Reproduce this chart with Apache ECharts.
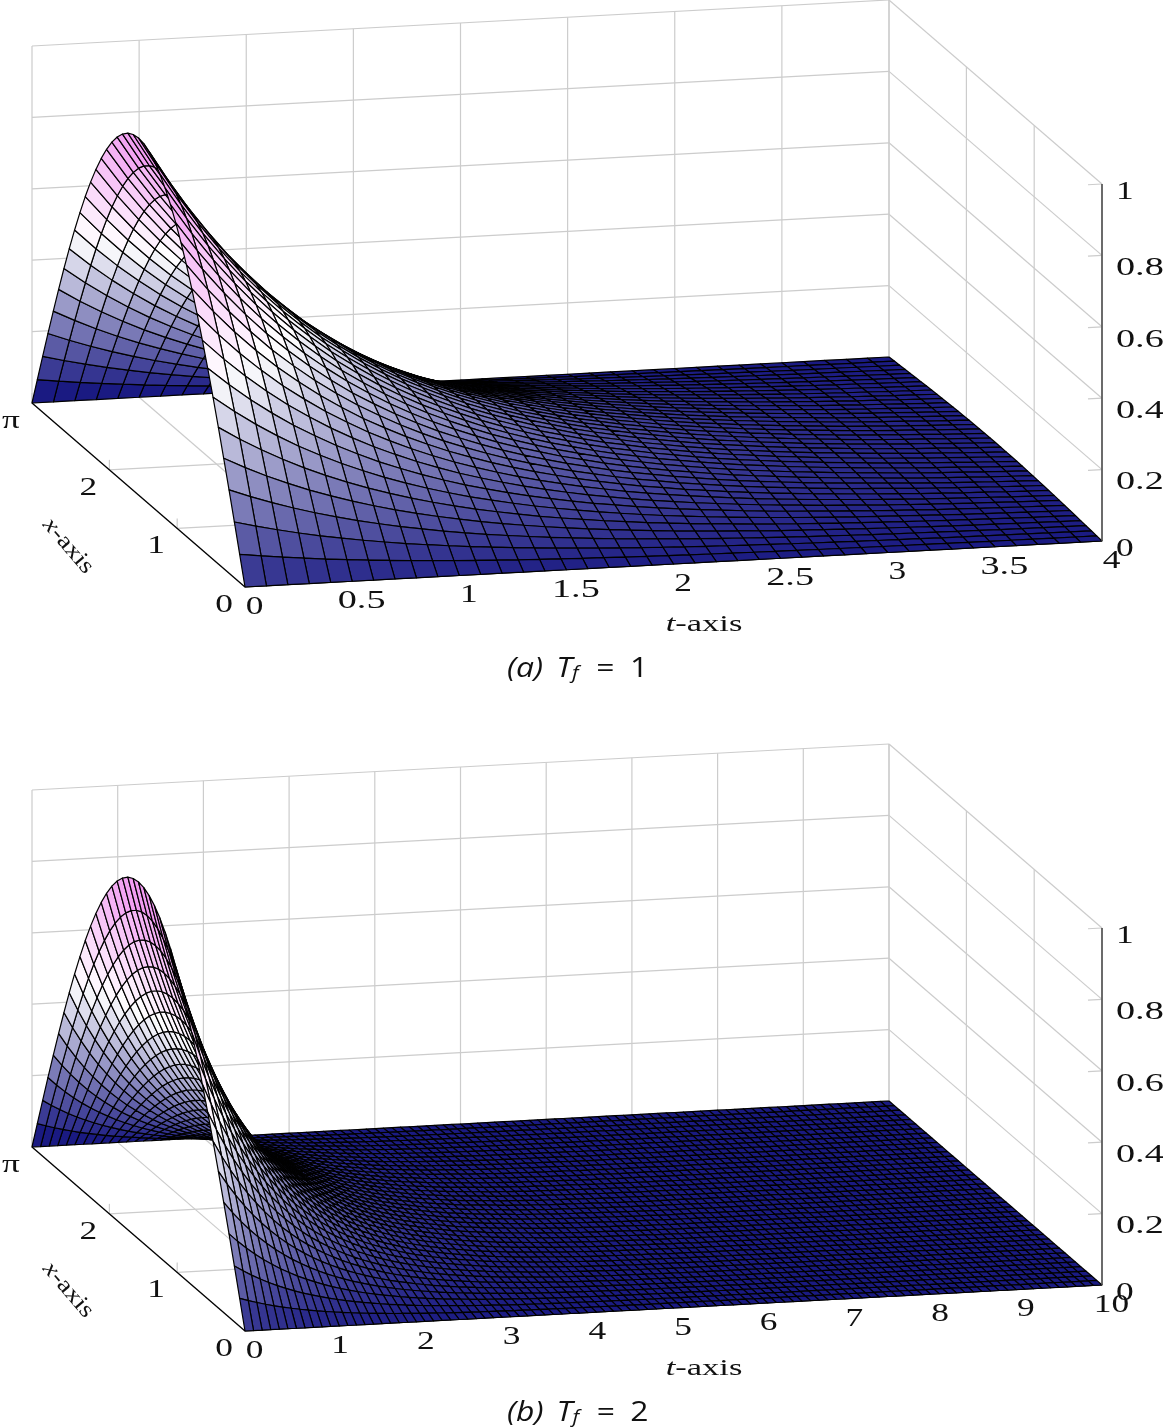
<!DOCTYPE html>
<html>
<head>
<meta charset="utf-8">
<style>html,body{margin:0;padding:0;background:#fff}#chart{width:1163px;height:1427px}</style>
<script src="https://cdn.jsdelivr.net/npm/echarts@6/dist/echarts.min.js"></script>
</head>
<body>
<div id="chart"></div>
<script>
// mesh positions along x
const xPositions = [0,.0785,.1571,.2356,.3142,.3927,.4712,.5498,.6283,.7069,.7854,.8639,.9425,1.021,1.0996,1.1781,1.2566,1.3352,1.4137,1.4923,1.5708,1.6493,1.7279,1.8064,1.885,1.9635,2.042,2.1206,2.1991,2.2777,2.3562,2.4347,2.5133,2.5918,2.6704,2.7489,2.8274,2.906,2.9845,3.0631,3.1416]
// height of the arc across x, relative to its top
const xProfile = [0,.0785,.1564,.2334,.309,.3827,.454,.5225,.5878,.6494,.7071,.7604,.809,.8526,.891,.9239,.9511,.9724,.9877,.9969,1,.9969,.9877,.9724,.9511,.9239,.891,.8526,.809,.7604,.7071,.6494,.5878,.5225,.454,.3827,.309,.2334,.1564,.0785,0]

// panel (a)
const tPositionsA = [0,.1,.2,.3,.4,.5,.6,.7,.8,.9,1,1.1,1.2,1.3,1.4,1.5,1.6,1.7,1.8,1.9,2,2.1,2.2,2.3,2.4,2.5,2.6,2.7,2.8,2.9,3,3.1,3.2,3.3,3.4,3.5,3.6,3.7,3.8,3.9,4]
const tPeakA = [1,.905,.819,.741,.67,.607,.549,.497,.449,.407,.368,.333,.301,.273,.247,.223,.202,.183,.165,.15,.135,.122,.111,.1,.091,.082,.074,.067,.061,.055,.05,.045,.041,.037,.033,.03,.027,.025,.022,.02,.018]
const tTicksA = [0,.5,1,1.5,2,2.5,3,3.5,4]
const tTickLabelsA = ['0','0.5','1','1.5','2','2.5','3','3.5','4']

// panel (b)
const tPositionsB = [0,.1,.2,.3,.4,.5,.6,.7,.8,.9,1,1.1,1.2,1.3,1.4,1.5,1.6,1.7,1.8,1.9,2,2.1,2.2,2.3,2.4,2.5,2.6,2.7,2.8,2.9,3,3.1,3.2,3.3,3.4,3.5,3.6,3.7,3.8,3.9,4,4.1,4.2,4.3,4.4,4.5,4.6,4.7,4.8,4.9,5,5.1,5.2,5.3,5.4,5.5,5.6,5.7,5.8,5.9,6,6.1,6.2,6.3,6.4,6.5,6.6,6.7,6.8,6.9,7,7.1,7.2,7.3,7.4,7.5,7.6,7.7,7.8,7.9,8,8.1,8.2,8.3,8.4,8.5,8.6,8.7,8.8,8.9,9,9.1,9.2,9.3,9.4,9.5,9.6,9.7,9.8,9.9,10]
const tPeakB = [1,.905,.819,.741,.67,.607,.549,.497,.449,.407,.368,.333,.301,.273,.247,.223,.202,.183,.165,.15,.135,.122,.111,.1,.091,.082,.074,.067,.061,.055,.05,.045,.041,.037,.033,.03,.027,.025,.022,.02,.018,.017,.015,.014,.012,.011,.01,.009,.008,.007,.007,.006,.006,.005,.005,.004,.004,.003,.003,.003,.002,.002,.002,.002,.002,.002,.001,.001,.001,.001,.001,.001,.001,.001,.001,.001,.001,0,0,0,0,0,0,0,0,0,0,0,0,0,0,0,0,0,0,0,0,0,0,0,0]
const tTicksB = [0,1,2,3,4,5,6,7,8,9,10]
const tTickLabelsB = ['0','1','2','3','4','5','6','7','8','9','10']

const xTicks = [0,1,2,3.1416]
const xTickLabels = ['0','1','2','π']
const zTicks = [0,.2,.4,.6,.8,1]
const zTickLabels = ['0','0.2','0.4','0.6','0.8','1']

// colormap stops, value then rgb
const colorStops = [[0,[26,26,130]],[.5,[255,255,255]],[1,[238,130,238]]]

const GRID_GREY = '#cccccc'
const SERIF = '"Liberation Serif"'
const SANS = '"Open Sans"'

// oblique view of the box, in pixels inside one panel
function project(api, tMax, t, x, z) {
  const tn = t / tMax
  const xn = x / 3.1416
  return api.coord([245 + tn * 857 - xn * 213, 587 - tn * 46 - xn * 184 - z * 357])
}

function cellColor(z) {
  let i = 0
  while (i < colorStops.length - 2 && z > colorStops[i + 1][0]) i++
  const a = colorStops[i], b = colorStops[i + 1]
  const f = Math.min(1, Math.max(0, (z - a[0]) / (b[0] - a[0])))
  const c = a[1].map((v, k) => Math.round(v + (b[1][k] - v) * f))
  return 'rgb(' + c.join(',') + ')'
}

function surfaceSeries(idx, tPos, tPeak) {
  const tMax = tPos[tPos.length - 1]
  const cells = []
  // far cells first so the near ones paint over them
  for (let j = xPositions.length - 2; j >= 0; j--) {
    for (let i = tPos.length - 2; i >= 0; i--) cells.push([i, j])
  }
  return {
    type: 'custom', coordinateSystem: 'cartesian2d', xAxisIndex: idx, yAxisIndex: idx,
    silent: true, animation: false, progressive: 0, clip: false, z: 3, data: cells,
    renderItem(params, api) {
      const i = api.value(0), j = api.value(1)
      const corners = [[i, j], [i + 1, j], [i + 1, j + 1], [i, j + 1]]
      const points = corners.map(([a, b]) =>
        project(api, tMax, tPos[a], xPositions[b], tPeak[a] * xProfile[b]))
      // flat shading takes the colour of the far corner
      return {
        type: 'polygon', shape: { points },
        style: { fill: cellColor(tPeak[i + 1] * xProfile[j + 1]), stroke: '#000', lineWidth: 1.2, lineJoin: 'round' }
      }
    }
  }
}

function lineSeries(idx, tMax, segments, color, width, z) {
  return {
    type: 'custom', coordinateSystem: 'cartesian2d', xAxisIndex: idx, yAxisIndex: idx,
    silent: true, animation: false, progressive: 0, clip: false, z,
    data: segments.map((s, i) => [i, 0]),
    renderItem(params, api) {
      const s = segments[api.value(0)]
      const p = project(api, tMax, s[0], s[1], s[2])
      const q = project(api, tMax, s[3], s[4], s[5])
      return {
        type: 'line', shape: { x1: p[0], y1: p[1], x2: q[0], y2: q[1] },
        style: { stroke: color, lineWidth: width }
      }
    }
  }
}

function textSeries(idx, tMax, labels) {
  return {
    type: 'custom', coordinateSystem: 'cartesian2d', xAxisIndex: idx, yAxisIndex: idx,
    silent: true, animation: false, progressive: 0, clip: false, z: 6,
    data: labels.map((l, i) => [i, 0]),
    renderItem(params, api) {
      const l = labels[api.value(0)]
      const p = project(api, tMax, l.t, l.x, l.z)
      return {
        type: 'text', x: p[0] + l.dx, y: p[1] + l.dy,
        scaleX: l.scaleX || (l.text.length > 2 ? 1.47 : 1.36), rotation: l.rotation || 0,
        style: {
          text: l.text, x: 0, y: 0, align: l.align || 'center', verticalAlign: 'middle',
          fontFamily: SERIF, fontSize: l.size || 26, fill: '#111',
          rich: l.rich || {
            it: { fontFamily: SERIF, fontStyle: 'italic', fontSize: l.size, fill: '#111' },
            rm: { fontFamily: SERIF, fontSize: l.size, fill: '#111' }
          }
        }
      }
    }
  }
}

function captionLabel(letter, value) {
  const base = { fontFamily: SANS, fontWeight: 400, fontSize: 27, fill: '#111' }
  return {
    text: '{it|(' + letter + ')}{gap|}{it|T}{sub|f}{gap2|}{up|=}{gap3|}{up|' + value + '}',
    t: 0, x: 0, z: 0, dx: 262, dy: 82, align: 'left', scaleX: 1.18,
    rich: {
      it: { ...base, fontStyle: 'italic' },
      up: base,
      gap: { width: 11, fontSize: 27 },
      gap2: { width: 15, fontSize: 27 },
      gap3: { width: 13, fontSize: 27 },
      sub: { ...base, fontStyle: 'italic', fontSize: 18, padding: [10, 0, 0, 0] }
    }
  }
}

function panelSeries(idx, tPos, tPeak, tTicks, tTickLabels, capLetter, capValue) {
  const tMax = tPos[tPos.length - 1]
  const xMax = 3.1416
  const grey = []
  tTicks.forEach(t => {
    grey.push([t, xMax, 0, t, xMax, 1])  // back wall
    grey.push([t, 0, 0, t, xMax, 0])     // floor
  })
  zTicks.forEach(z => {
    grey.push([0, xMax, z, tMax, xMax, z])
    grey.push([tMax, xMax, z, tMax, 0, z])
    grey.push([tMax, 0, z, tMax * (1 - 14 / 857), 0, z])  // tick
  })
  xTicks.forEach(x => {
    grey.push([tMax, x, 0, tMax, x, 1])
    grey.push([0, x, 0, tMax, x, 0])
    grey.push([0, x, 0, 0, x, .028])  // tick
  })
  const frontAxes = [[0, xMax, 0, 0, 0, 0], [0, 0, 0, tMax, 0, 0]]
  const zAxisLine = [[tMax, 0, 0, tMax, 0, 1]]

  const labels = []
  tTicks.forEach((t, i) => labels.push({ text: tTickLabels[i], t, x: 0, z: 0, dx: 9.5, dy: 20 }))
  xTicks.forEach((x, i) => labels.push({ text: xTickLabels[i], t: 0, x, z: 0, dx: -21, dy: 18 }))
  zTicks.forEach((z, i) => {
    const short = zTickLabels[i].length === 1
    labels.push({ text: zTickLabels[i], t: tMax, x: 0, z, dx: 14, dy: short ? 8.5 : 13, align: 'left' })
  })
  labels.push({ text: '{it|x}{rm|-axis}', t: 0, x: 0, z: 0, dx: -177, dy: -41, rotation: -0.86, scaleX: 1.2, size: 23 })
  labels.push({ text: '{it|t}{rm|-axis}', t: 0, x: 0, z: 0, dx: 459, dy: 38, scaleX: 1.5, size: 23 })
  labels.push(captionLabel(capLetter, capValue))

  return [
    lineSeries(idx, tMax, grey, GRID_GREY, 1.2, 1),
    lineSeries(idx, tMax, frontAxes, '#000', 1.2, 2),
    surfaceSeries(idx, tPos, tPeak),
    lineSeries(idx, tMax, zAxisLine, '#444', 1.5, 4),
    textSeries(idx, tMax, labels)
  ]
}

const chart = echarts.init(document.getElementById('chart'), null, { renderer: 'canvas' })
const hiddenAxis = extra => Object.assign({ type: 'value', show: false, min: 0 }, extra)
chart.setOption({
  animation: false,
  backgroundColor: '#fff',
  grid: [
    { left: 0, top: 0, width: 1163, height: 700 },
    { left: 0, top: 744, width: 1163, height: 683 }
  ],
  xAxis: [hiddenAxis({ max: 1163, gridIndex: 0 }), hiddenAxis({ max: 1163, gridIndex: 1 })],
  yAxis: [hiddenAxis({ max: 700, inverse: true, gridIndex: 0 }), hiddenAxis({ max: 683, inverse: true, gridIndex: 1 })],
  series: [
    ...panelSeries(0, tPositionsA, tPeakA, tTicksA, tTickLabelsA, 'a', 1),
    ...panelSeries(1, tPositionsB, tPeakB, tTicksB, tTickLabelsB, 'b', 2)
  ]
})
</script>
</body>
</html>
